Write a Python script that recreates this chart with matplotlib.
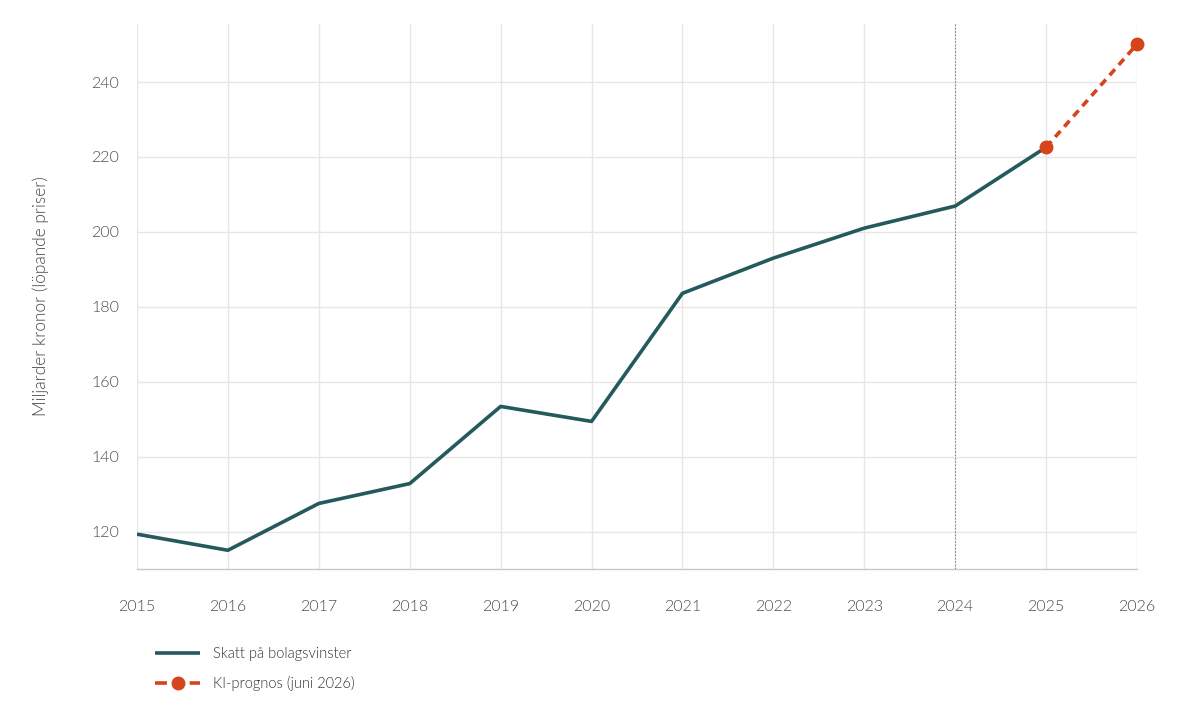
import matplotlib.pyplot as plt
from matplotlib.lines import Line2D
from matplotlib.ticker import FixedLocator

plt.rcParams['font.family'] = ['Lato', 'DejaVu Sans']

# Data
YEARS = [2015, 2016, 2017, 2018, 2019, 2020, 2021, 2022, 2023, 2024, 2025]
TAX = [119.3, 115.0, 127.5, 132.8, 153.4, 149.4, 183.6, 193.0, 201.0, 206.9, 222.6]
FORECAST_YEARS = [2025, 2026]
FORECAST = [222.6, 250.1]
Y_TICKS = [120, 140, 160, 180, 200, 220, 240]
X_TICKS = list(range(2015, 2027))

TEAL = "#245a5c"
ORANGE = "#d6441b"
TEXT = "#4a4a4a"
WEIGHT = 300

fig = plt.figure(figsize=(12.01, 7.10), dpi=100, facecolor="white")
ax = fig.add_axes([137 / 1201, 1 - 569 / 710, 1000 / 1201, 545 / 710])

ax.plot(YEARS, TAX, color=TEAL, lw=2.6, solid_capstyle="butt", zorder=4)
ax.plot(FORECAST_YEARS, FORECAST, color=ORANGE, lw=2.6,
        linestyle=(0, (2.2, 1.6)), marker="o", markersize=9,
        clip_on=False, zorder=5)

# Vertical marker at 2024
ax.axvline(2024, color="#8a8a8a", lw=0.8, linestyle=(0, (1.5, 1.5)), zorder=3)

ax.set_xlim(2015, 2026)
ax.set_ylim(110, 255.5)
ax.xaxis.set_major_locator(FixedLocator(X_TICKS))
ax.yaxis.set_major_locator(FixedLocator(Y_TICKS))
ax.grid(True, color="#e6e6e6", lw=1.0, zorder=0)
ax.set_axisbelow(True)

for side in ["top", "right", "left"]:
    ax.spines[side].set_visible(False)
ax.spines["bottom"].set_color("#c8c8c8")
ax.spines["bottom"].set_linewidth(1.0)

ax.tick_params(axis="both", length=0, labelsize=11.5, labelcolor=TEXT)
ax.tick_params(axis="x", pad=22)
ax.tick_params(axis="y", pad=13)
for lbl in ax.get_xticklabels() + ax.get_yticklabels():
    lbl.set_fontweight(WEIGHT)

ax.set_ylabel("Miljarder kronor (löpande priser)", fontsize=12.4, color=TEXT,
              labelpad=30, fontweight=WEIGHT)

# Legend handles (own dash pattern so it reads dash-dot-dash)
handles = [
    Line2D([], [], color=TEAL, lw=2.6, solid_capstyle="butt"),
    Line2D([], [], color=ORANGE, lw=2.6, linestyle=(0, (3.3, 6.3)),
           marker="o", markersize=9),
]
labels = ["Skatt på bolagsvinster", "KI-prognos (juni 2026)"]
leg = fig.legend(handles, labels, loc="upper left",
                 bbox_to_anchor=(155 / 1201, 1 - 647 / 710),
                 frameon=False, fontsize=10.5, handlelength=3.1,
                 handletextpad=0.9, labelspacing=1.0, numpoints=1,
                 borderpad=0, borderaxespad=0)
for t in leg.get_texts():
    t.set_color("#333333")
    t.set_fontweight(WEIGHT)

fig.savefig("out.png", dpi=100, facecolor="white")
